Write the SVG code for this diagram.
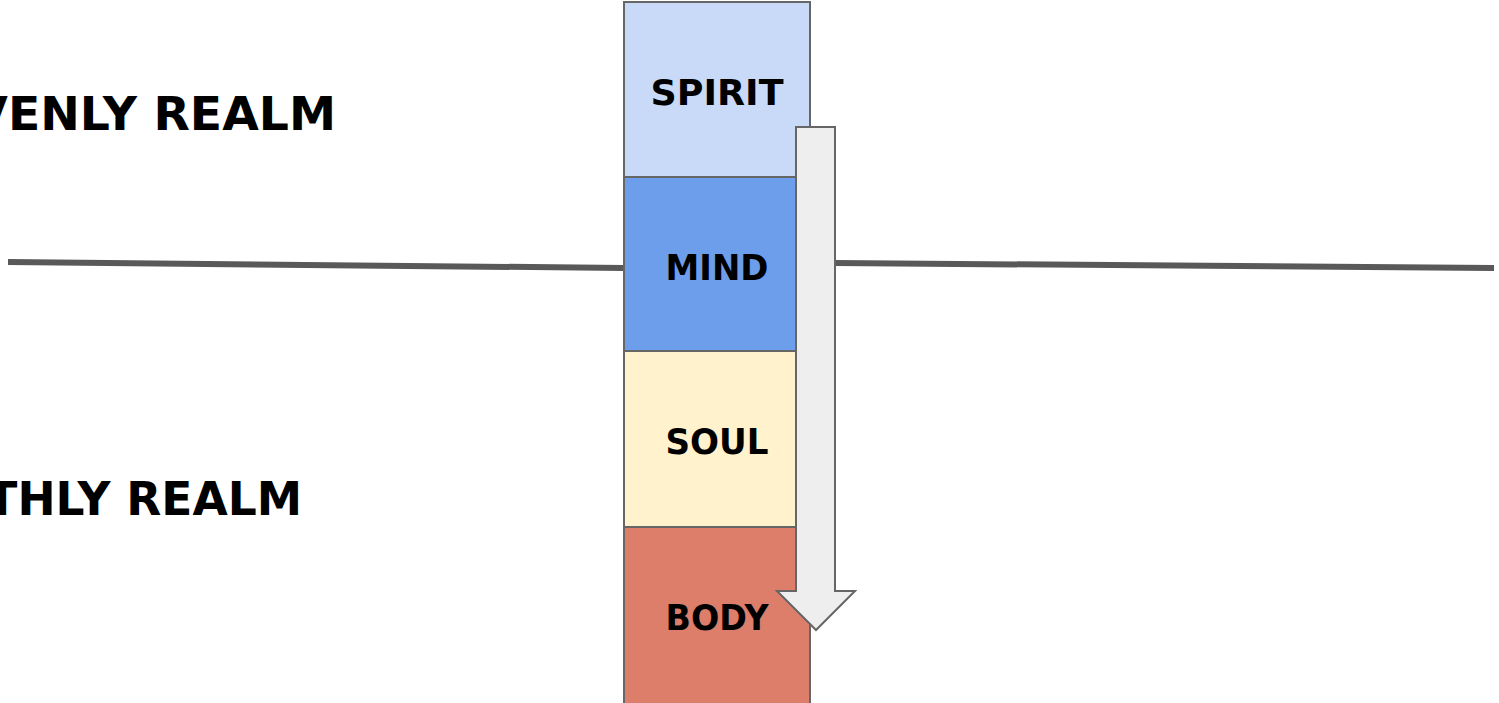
<svg xmlns="http://www.w3.org/2000/svg" width="1499" height="703" viewBox="0 0 1499 703">
<style>
.box{stroke:#666666;stroke-width:2}
.lbl{font-family:"DejaVu Sans","Liberation Sans",sans-serif;font-weight:900;font-size:35px;fill:#000;text-anchor:middle}
.realm{font-family:"DejaVu Sans","Liberation Sans",sans-serif;font-weight:900;font-size:46px;fill:#000;text-anchor:end}
.line{stroke:#595959;stroke-width:6;fill:none}
</style>
<rect width="1499" height="703" fill="#ffffff"/>
<g id="labels-realm">
<text class="realm" x="336" y="130" textLength="470" lengthAdjust="spacingAndGlyphs">HEAVENLY REALM</text>
<text class="realm" x="302" y="515" textLength="415" lengthAdjust="spacingAndGlyphs">EARTHLY REALM</text>
</g>
<g id="connectors">
<path class="line" d="M8,262 L624,268"/>
<path class="line" d="M835,263 L1494,268"/>
</g>
<g id="spirit">
<rect class="box" x="624" y="2" width="186" height="175" fill="#c9daf8"/>
<text class="lbl" x="717" y="105" textLength="133" lengthAdjust="spacingAndGlyphs">SPIRIT</text>
</g>
<g id="mind">
<rect class="box" x="624" y="177" width="186" height="174" fill="#6d9eeb"/>
<text class="lbl" x="717" y="280" textLength="103" lengthAdjust="spacingAndGlyphs">MIND</text>
</g>
<g id="soul">
<rect class="box" x="624" y="351" width="186" height="176" fill="#fff2cc"/>
<text class="lbl" x="717" y="454" textLength="103" lengthAdjust="spacingAndGlyphs">SOUL</text>
</g>
<g id="body">
<rect class="box" x="624" y="527" width="186" height="180" fill="#dd7e6b"/>
<text class="lbl" x="717" y="630" textLength="103" lengthAdjust="spacingAndGlyphs">BODY</text>
</g>
<g id="arrow">
<path d="M796,127 L835,127 L835,591 L855,591 L816,630 L777,591 L796,591 Z" fill="#eeeeee" stroke="#666666" stroke-width="2" stroke-linejoin="miter"/>
</g>
</svg>
